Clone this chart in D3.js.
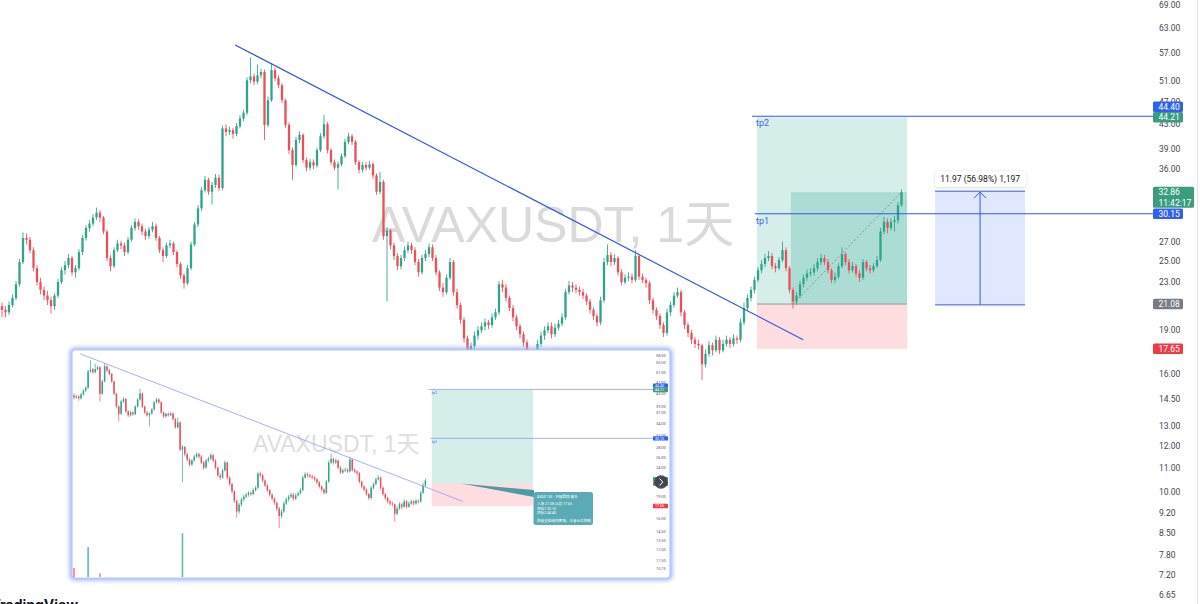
<!DOCTYPE html>
<html>
<head>
<meta charset="utf-8">
<script src="https://cdn.jsdelivr.net/npm/d3@7"></script>
<style>
  html, body { margin: 0; padding: 0; background: #ffffff; }
  svg { display: block; font-family: Roboto, "Noto Sans CJK SC", sans-serif; }
</style>
</head>
<body>
<svg id="chart" width="1200" height="604"></svg>
<script>
// ---- AVAXUSDT daily candles ----
const firstOpen = 20.9;
const closes = [
  20.6, 20.4, 21.0, 21.6, 22.8, 24.9, 27.4, 27.2, 26.1, 24.3,
  23.0, 22.3, 21.8, 21.4, 20.9, 21.8, 23.0, 24.1, 24.6, 25.3,
  23.9, 24.3, 25.9, 27.4, 28.5, 29.0, 29.7, 30.3, 29.7, 28.1,
  25.3, 24.5, 26.1, 26.8, 26.6, 25.9, 27.2, 28.5, 29.2, 28.7,
  28.1, 27.6, 28.3, 28.7, 27.4, 26.1, 25.5, 26.6, 26.8, 25.9,
  24.7, 23.6, 22.9, 24.3, 26.7, 28.9, 30.8, 33.1, 34.5, 32.9,
  33.8, 34.8, 33.4, 42.3, 41.7, 42.0, 41.4, 42.7, 44.0, 45.0,
  51.2, 52.0, 50.9, 52.2, 52.9, 42.9, 47.3, 53.3, 51.6, 50.2,
  47.3, 42.9, 38.8, 36.6, 40.4, 41.2, 37.3, 36.2, 37.0, 36.5,
  38.8, 41.0, 43.0, 38.8, 37.0, 36.2, 36.7, 37.9, 40.1, 41.0,
  40.1, 37.0, 35.9, 36.6, 36.2, 36.7, 35.1, 32.9, 34.2, 27.6,
  28.2, 26.6, 25.5, 24.5, 25.3, 26.1, 26.6, 26.1, 24.9, 23.9,
  25.3, 25.7, 26.4, 25.3, 23.9, 22.5, 22.1, 23.4, 24.9, 22.1,
  21.0, 19.8, 18.4, 16.9, 17.85, 18.6, 19.0, 19.3, 19.6, 19.4,
  20.0, 20.4, 22.8, 22.5, 21.6, 20.75, 20.0, 19.3, 18.7, 18.1,
  17.3, 16.3, 16.9, 18.0, 18.6, 19.0, 19.3, 18.7, 19.2, 19.5,
  20.0, 22.1, 22.7, 22.5, 22.3, 22.1, 21.8, 21.3, 20.6, 20.1,
  19.6, 21.4, 24.9, 25.6, 24.9, 25.3, 23.9, 23.0, 23.4, 23.5,
  23.2, 25.5, 23.5, 23.2, 22.9, 21.4, 20.6, 20.1, 19.4, 18.8,
  20.4, 21.0, 21.8, 22.1, 20.4, 19.4, 18.8, 18.3, 18.0, 17.9,
  16.6, 17.3, 17.9, 17.55, 18.3, 17.55, 18.0, 18.3, 18.0, 18.4,
  18.3, 19.6, 20.75, 21.6, 22.3, 23.2, 24.1, 24.7, 25.3, 25.5,
  24.5, 24.3, 25.1, 26.1, 24.3, 22.3, 21.3, 21.8, 22.8, 23.4,
  23.8, 23.9, 24.3, 24.9, 25.3, 24.9, 24.1, 23.2, 23.5, 24.5,
  25.7, 24.9, 24.1, 24.5, 23.8, 23.4, 24.9, 24.3, 24.1, 24.5,
  25.1, 28.1, 29.2, 28.5, 29.2, 29.4, 31.2, 32.86
];
const highs = [
  21.2, 20.9, 21.3, 21.9, 23.1, 25.2, 28.0, 27.9, 27.5, 26.4,
  24.6, 23.4, 22.6, 22.2, 21.7, 22.0, 23.3, 24.4, 25.0, 25.7,
  25.5, 24.6, 26.2, 27.7, 28.8, 29.4, 30.1, 30.9, 30.6, 29.9,
  28.3, 25.6, 26.4, 27.2, 27.1, 26.9, 27.5, 28.8, 29.6, 29.5,
  29.0, 28.4, 28.6, 29.2, 29.0, 27.6, 26.4, 26.9, 27.2, 27.0,
  26.1, 24.9, 23.8, 24.6, 27.0, 29.2, 31.2, 33.5, 35.0, 34.8,
  34.2, 35.3, 35.2, 42.8, 43.0, 42.6, 42.4, 43.2, 44.6, 45.6,
  51.8, 56.0, 52.6, 54.5, 53.6, 53.4, 48.0, 54.8, 53.8, 52.2,
  50.6, 47.6, 43.3, 39.2, 40.9, 41.8, 41.5, 37.7, 37.5, 37.4,
  39.2, 41.5, 44.6, 43.4, 39.1, 37.4, 37.1, 38.3, 40.6, 41.6,
  41.4, 40.4, 37.3, 37.0, 37.0, 37.2, 37.0, 35.4, 35.6, 34.5,
  28.6, 28.4, 26.9, 25.8, 25.6, 26.5, 27.0, 26.9, 26.4, 25.2,
  25.6, 26.1, 26.8, 26.7, 25.6, 24.1, 22.9, 23.7, 25.3, 25.1,
  22.4, 21.2, 20.0, 18.6, 18.1, 18.9, 19.3, 19.6, 19.9, 19.8,
  20.3, 20.7, 23.1, 23.2, 22.8, 21.8, 21.0, 20.2, 19.5, 18.9,
  18.3, 17.5, 17.2, 18.3, 18.9, 19.3, 19.6, 19.6, 19.5, 19.8,
  20.3, 22.4, 23.1, 23.0, 22.8, 22.6, 22.4, 22.0, 21.5, 20.8,
  20.3, 21.7, 25.3, 26.7, 25.9, 25.7, 25.5, 24.2, 23.7, 23.9,
  23.8, 26.1, 25.7, 23.8, 23.4, 23.1, 21.6, 20.8, 20.3, 19.6,
  20.7, 21.3, 22.1, 22.5, 22.3, 20.6, 19.6, 19.0, 18.5, 18.3,
  18.0, 17.6, 18.2, 18.1, 18.6, 18.5, 18.3, 18.6, 18.5, 18.7,
  18.6, 19.9, 21.2, 21.9, 22.6, 23.5, 24.4, 25.1, 25.7, 26.0,
  25.8, 24.8, 25.4, 27.0, 26.4, 24.5, 22.5, 22.1, 23.1, 23.7,
  24.2, 24.3, 24.7, 25.3, 25.7, 25.6, 25.2, 24.3, 23.9, 24.8,
  26.4, 25.9, 25.2, 24.9, 24.7, 24.1, 25.2, 25.1, 24.6, 24.8,
  25.5, 28.5, 29.8, 29.6, 29.6, 29.9, 31.6, 33.2
];
const lows = [
  20.0, 20.0, 20.2, 20.8, 21.4, 22.6, 24.7, 26.7, 25.8, 24.0,
  22.7, 21.9, 21.4, 21.0, 20.3, 20.6, 21.6, 22.8, 23.7, 24.3,
  23.6, 23.4, 24.1, 25.6, 27.1, 28.1, 28.7, 29.4, 29.2, 27.8,
  25.0, 24.0, 24.3, 25.9, 26.2, 25.5, 25.7, 27.0, 28.2, 28.3,
  27.7, 27.2, 27.3, 28.0, 27.1, 25.8, 24.9, 25.3, 26.3, 25.6,
  24.4, 23.3, 22.4, 22.7, 24.1, 26.5, 28.6, 30.5, 32.8, 32.5,
  31.3, 33.4, 33.0, 33.1, 41.0, 41.2, 40.6, 41.0, 42.3, 43.5,
  44.6, 50.6, 50.2, 50.4, 51.6, 40.4, 42.5, 47.0, 51.0, 49.6,
  46.8, 42.4, 38.2, 34.5, 36.3, 39.9, 36.9, 35.7, 35.8, 36.0,
  36.2, 38.5, 40.6, 38.3, 36.6, 35.8, 33.2, 36.4, 37.6, 39.7,
  39.6, 36.6, 35.4, 35.5, 35.8, 35.9, 34.7, 32.5, 32.6, 27.2,
  21.3, 26.2, 25.1, 24.1, 24.2, 25.0, 25.8, 25.7, 24.6, 23.5,
  23.7, 25.0, 25.4, 25.0, 23.6, 22.2, 21.7, 21.9, 23.2, 21.8,
  20.7, 19.5, 18.1, 16.1, 16.6, 17.6, 18.3, 18.8, 19.0, 19.1,
  19.2, 19.8, 20.2, 22.1, 21.3, 20.5, 19.7, 19.0, 18.4, 17.8,
  17.0, 14.8, 16.0, 16.7, 17.8, 18.3, 18.8, 18.4, 18.5, 19.0,
  19.3, 19.8, 21.9, 22.1, 22.0, 21.8, 21.5, 21.0, 20.3, 19.8,
  19.3, 19.4, 21.2, 24.6, 24.5, 24.6, 23.6, 22.7, 22.8, 23.1,
  22.9, 23.0, 23.2, 22.9, 22.5, 21.1, 20.3, 19.8, 19.1, 18.5,
  18.6, 20.1, 20.8, 21.6, 20.1, 19.1, 18.5, 18.0, 17.7, 17.6,
  15.6, 16.4, 17.1, 17.2, 17.4, 17.3, 17.4, 17.8, 17.7, 17.8,
  18.0, 18.1, 19.4, 20.5, 21.3, 22.0, 23.0, 23.8, 24.4, 25.0,
  24.2, 23.9, 24.1, 24.9, 24.0, 22.0, 20.7, 21.0, 21.6, 22.5,
  23.1, 23.5, 23.6, 24.0, 24.6, 24.6, 23.8, 22.9, 22.9, 23.3,
  24.3, 24.6, 23.8, 23.9, 23.5, 23.0, 23.2, 24.0, 23.8, 23.9,
  24.3, 24.9, 27.8, 27.9, 28.2, 28.1, 29.0, 31.0
];

// price axis ticks
const axisTicks = [69, 63, 57, 51, 47, 43, 39, 36, 27, 25, 23, 19, 16, 14.5, 13, 12, 11, 10, 9.2, 8.5, 7.8, 7.2, 6.65];
const insetTicks = [58, 55, 51, 47, 43, 39, 37, 34, 31, 28, 26, 24, 22, 19, 16, 14.5, 13.5, 12.5, 11.5, 10.75];

// drawings (bar index / price)
const trendPoints = [{ i: 66.6, p: 58.9 }, { i: 228.9, p: 18.3 }];
const entryPrice = 21.08, targetPrice = 44.21, stopPrice = 17.65, lastPrice = 32.86;
const positionSpan = [215.7, 258.6];
const positionLiveFrom = 225.4;
const liveDiagonal = [{ i: 226, p: 21.08 }, { i: 257, p: 32.86 }];
const levelLines = [
  { name: 'tp2', p: 44.40, from: 214.3 },
  { name: 'tp1', p: 30.15, from: 215.1 }
];
const measureSpan = [266.6, 292.3];
const measurePrices = [21.01, 32.98];
const measureText = '11.97 (56.98%) 1,197';
const watermarkText = 'AVAXUSDT, 1天';

const priceTags = [
  { v: 44.40, lines: ['44.40'], color: '#3160ee' },
  { v: 44.21, lines: ['44.21'], color: '#3a9d7d' },
  { v: 32.86, lines: ['32.86', '11:42:17'], color: '#3a9d7d' },
  { v: 30.15, lines: ['30.15'], color: '#3160ee' },
  { v: 21.08, lines: ['21.08'], color: '#787b86' },
  { v: 17.65, lines: ['17.65'], color: '#ef3b47' }
];

// snapshot panel: the same chart at the time of entry
const insetLastIndex = 213;
const insetVolumeIndex = [64, 70, 75, 110];
const insetVolumeValue = [18, 55, 8, 80];
const insetTags = [
  { v: 44.40, text: '44.40', color: '#3160ee' },
  { v: 44.21, text: '44.21', color: '#3a9d7d' },
  { v: 30.15, text: '30.15', color: '#3160ee' },
  { v: 21.60, text: '21.60', color: '#3a9d7d' },
  { v: 21.08, text: '21.08', color: '#787b86' },
  { v: 17.65, text: '17.65', color: '#ef3b47' }
];
const noteLines = [
  'AVAX 1天 · 突破回踩 做多',
  '入场  21.08   止损  17.65',
  '目标1  30.15',
  '目标2  44.40',
  '跌破支撑线则离场，注意仓位控制'
];

// ---- drawing ----
const UP = '#2ea48a', DOWN = '#ec4f5a', LINE = '#3559e6';
const svg = d3.select('#chart');
const N = closes.length;
const candles = closes.map((c, i) => ({ i, o: i === 0 ? firstOpen : closes[i - 1], c, h: highs[i], l: lows[i] }));

const x = d3.scaleLinear().domain([0, N - 1]).range([2, 901.5]);
const y = d3.scaleLog().domain([69, 6.65]).range([5, 595]);

const defs = svg.append('defs');
defs.append('filter').attr('id', 'glow').attr('x', '-5%').attr('y', '-10%').attr('width', '110%').attr('height', '120%')
  .append('feGaussianBlur').attr('stdDeviation', 2.2);
defs.append('filter').attr('id', 'shadow').attr('x', '-20%').attr('y', '-50%').attr('width', '140%').attr('height', '200%')
  .append('feDropShadow').attr('dx', 0).attr('dy', 0.5).attr('stdDeviation', 1.2).attr('flood-color', '#000').attr('flood-opacity', 0.22);
defs.append('clipPath').attr('id', 'insetClip').append('rect').attr('x', 73).attr('y', 351).attr('width', 580).attr('height', 226);

function drawCandles(g, data, xs, ys, bodyW, wickW) {
  const c = g.selectAll('g.candle').data(data).join('g').attr('class', 'candle');
  c.append('line')
    .attr('x1', d => xs(d.i)).attr('x2', d => xs(d.i))
    .attr('y1', d => ys(Math.max(d.h, d.o, d.c))).attr('y2', d => ys(Math.min(d.l, d.o, d.c)))
    .attr('stroke', d => d.c >= d.o ? UP : DOWN).attr('stroke-width', wickW).attr('stroke-opacity', 0.85);
  c.append('rect')
    .attr('x', d => xs(d.i) - bodyW / 2)
    .attr('y', d => ys(Math.max(d.o, d.c)))
    .attr('width', bodyW)
    .attr('height', d => Math.max(0.8, Math.abs(ys(d.o) - ys(d.c))))
    .attr('fill', d => d.c >= d.o ? UP : DOWN);
}

function drawPosition(g, xs, ys, withLive) {
  const x0 = xs(positionSpan[0]), x1 = xs(positionSpan[1]);
  g.append('rect').attr('x', x0).attr('y', ys(targetPrice)).attr('width', x1 - x0)
    .attr('height', ys(entryPrice) - ys(targetPrice)).attr('fill', '#089981').attr('fill-opacity', 0.17);
  g.append('rect').attr('x', x0).attr('y', ys(entryPrice)).attr('width', x1 - x0)
    .attr('height', ys(stopPrice) - ys(entryPrice)).attr('fill', '#f23645').attr('fill-opacity', 0.17);
  if (withLive) {
    const xl = xs(positionLiveFrom);
    g.append('rect').attr('x', xl).attr('y', ys(lastPrice)).attr('width', x1 - xl)
      .attr('height', ys(entryPrice) - ys(lastPrice)).attr('fill', '#089981').attr('fill-opacity', 0.2);
    g.append('line').attr('x1', x0).attr('x2', x1).attr('y1', ys(entryPrice)).attr('y2', ys(entryPrice))
      .attr('stroke', '#9598a1').attr('stroke-width', 1);
  }
}

// watermark
svg.append('text').attr('x', 372).attr('y', 242)
  .attr('font-family', '"Liberation Sans", Arial, "Noto Sans CJK SC", sans-serif')
  .attr('font-size', 50).attr('fill', '#dadada').text(watermarkText);

// position tool and price range fills under candles
const main = svg.append('g');
drawPosition(main, x, y, true);
const mx0 = x(measureSpan[0]), mx1 = x(measureSpan[1]);
const myTop = y(measurePrices[1]), myBot = y(measurePrices[0]);
main.append('rect').attr('x', mx0).attr('y', myTop).attr('width', mx1 - mx0).attr('height', myBot - myTop)
  .attr('fill', '#2962ff').attr('fill-opacity', 0.15);

drawCandles(main.append('g'), candles, x, y, 2.3, 1);

// dashed path from entry to last price
main.append('line')
  .attr('x1', x(liveDiagonal[0].i)).attr('y1', y(liveDiagonal[0].p))
  .attr('x2', x(liveDiagonal[1].i)).attr('y2', y(liveDiagonal[1].p))
  .attr('stroke', '#8a8d96').attr('stroke-width', 1).attr('stroke-dasharray', '2,2');

// trend line
const trendLine = d3.line().x(d => x(d.i)).y(d => y(d.p));
main.append('path').attr('d', trendLine(trendPoints)).attr('fill', 'none').attr('stroke', LINE).attr('stroke-width', 1.2);

// horizontal levels
levelLines.forEach(l => {
  main.append('line').attr('x1', x(l.from)).attr('x2', 1153).attr('y1', y(l.p)).attr('y2', y(l.p))
    .attr('stroke', LINE).attr('stroke-width', 1.1);
  main.append('text').attr('x', x(positionSpan[0]) - 1).attr('y', y(l.p) + 10)
    .attr('font-size', 9).attr('fill', '#3e63e6').text(l.name);
});

// price range measure
[myTop, myBot].forEach(v => main.append('line').attr('x1', mx0).attr('x2', mx1).attr('y1', v).attr('y2', v)
  .attr('stroke', LINE).attr('stroke-width', 1));
const mxc = (mx0 + mx1) / 2;
main.append('line').attr('x1', mxc).attr('x2', mxc).attr('y1', myBot).attr('y2', myTop + 1)
  .attr('stroke', LINE).attr('stroke-width', 1);
main.append('path').attr('d', `M${mxc - 6},${myTop + 7}L${mxc},${myTop + 1}L${mxc + 6},${myTop + 7}`)
  .attr('fill', 'none').attr('stroke', LINE).attr('stroke-width', 1);
main.append('rect').attr('x', mx0).attr('y', myTop - 20).attr('width', mx1 - mx0 + 1).attr('height', 15.5)
  .attr('rx', 3).attr('fill', '#fff').attr('filter', 'url(#shadow)');
main.append('text').attr('x', mxc).attr('y', myTop - 12.2).attr('dy', '0.35em').attr('text-anchor', 'middle')
  .attr('font-size', 8.5).attr('fill', '#131722').text(measureText);

// ---- snapshot panel ----
const inset = svg.append('g');
inset.append('rect').attr('x', 72).attr('y', 350).attr('width', 598).attr('height', 228).attr('rx', 3)
  .attr('fill', 'none').attr('stroke', '#94acfb').attr('stroke-width', 4.5).attr('filter', 'url(#glow)');
inset.append('rect').attr('x', 72).attr('y', 350).attr('width', 598).attr('height', 228).attr('rx', 3)
  .attr('fill', '#ffffff').attr('stroke', '#b8c7fc').attr('stroke-width', 1.2);

const ix = d3.scaleLinear().domain([0, N - 1]).range([-77.0, 529.2]);
const iy = d3.scaleLog().domain([44.21, 17.65]).range([390, 506]);
const ivol = d3.scaleLinear().domain([0, 100]).range([578, 522]);

const ip = inset.append('g').attr('clip-path', 'url(#insetClip)');
ip.append('text').attr('x', 253).attr('y', 452)
  .attr('font-family', '"Liberation Sans", Arial, "Noto Sans CJK SC", sans-serif')
  .attr('font-size', 23).attr('fill', '#dedede').text(watermarkText);

ip.selectAll('rect.vol').data(insetVolumeIndex).join('rect').attr('class', 'vol')
  .attr('x', i => ix(i) - 0.8).attr('width', 1.6)
  .attr('y', (i, k) => ivol(insetVolumeValue[k])).attr('height', (i, k) => ivol(0) - ivol(insetVolumeValue[k]))
  .attr('fill', i => candles[i].c >= candles[i].o ? UP : DOWN).attr('fill-opacity', 0.75);

drawPosition(ip, ix, iy, false);
drawCandles(ip.append('g'), candles.filter(d => d.i <= insetLastIndex), ix, iy, 1.5, 0.8);

const itrend = d3.line().x(d => ix(d.i)).y(d => iy(d.p));
ip.append('path').attr('d', itrend(trendPoints)).attr('fill', 'none').attr('stroke', '#8d9ff0').attr('stroke-width', 0.8);

levelLines.forEach(l => {
  inset.append('line').attr('x1', ix(l.from)).attr('x2', 668).attr('y1', iy(l.p)).attr('y2', iy(l.p))
    .attr('stroke', '#7f95f2').attr('stroke-width', 0.7);
  inset.append('text').attr('x', ix(positionSpan[0])).attr('y', iy(l.p) + 4.5)
    .attr('font-size', 3.6).attr('fill', '#3e63e6').text(l.name);
});

// note callout
inset.append('path').attr('d', `M${ix(228)},${iy(entryPrice)}L534,490L534,497Z`).attr('fill', '#4d9ba6');
inset.append('rect').attr('x', 533.5).attr('y', 492).attr('width', 59.5).attr('height', 33).attr('rx', 2.5).attr('fill', '#5aabb5');
const noteY = [497, 504, 508.3, 512.6, 520.7];
noteLines.forEach((t, k) => inset.append('text').attr('x', 537).attr('y', noteY[k]).attr('dy', '0.35em')
  .attr('font-size', 3.6).attr('fill', '#ffffff').text(t));

// snapshot price axis
const iAxis = inset.append('g').attr('transform', 'translate(655,0)')
  .call(d3.axisRight(iy).tickValues(insetTicks).tickFormat(d3.format('.2f')).tickSize(0).tickPadding(1));
iAxis.select('.domain').remove();
iAxis.selectAll('text').attr('font-size', 3.8).attr('fill', '#50535e').attr('font-family', 'Roboto, sans-serif');

function placeTags(list, ys, h) {
  const t = list.map(d => Object.assign({}, d, { cy: ys(d.v) })).sort((a, b) => a.cy - b.cy);
  for (let k = t.length - 2; k >= 0; k--) {
    const limit = t[k + 1].cy - h;
    if (t[k].cy > limit) t[k].cy = limit;
  }
  return t;
}
placeTags(insetTags, iy, 4.4).forEach(t => {
  inset.append('rect').attr('x', 653).attr('y', t.cy - 2.2).attr('width', 15).attr('height', 4.4).attr('rx', 0.6).attr('fill', t.color);
  inset.append('text').attr('x', 655).attr('y', t.cy).attr('dy', '0.35em').attr('font-size', 3.6).attr('fill', '#fff').text(t.text);
});
inset.append('circle').attr('cx', 661).attr('cy', 482).attr('r', 6.8).attr('fill', '#3b3f49').attr('fill-opacity', 0.92);
inset.append('path').attr('d', 'M659.5,478.5L662.8,482L659.5,485.5').attr('fill', 'none').attr('stroke', '#fff').attr('stroke-width', 1);

// ---- main price axis ----
const axisG = svg.append('g').attr('transform', 'translate(1156,0)')
  .call(d3.axisRight(y).tickValues(axisTicks).tickFormat(d3.format('.2f')).tickSize(0).tickPadding(3));
axisG.select('.domain').remove();
axisG.selectAll('text').attr('font-size', 8.5).attr('fill', '#434651').attr('font-family', 'Roboto, sans-serif');

const tagLineH = 10.5;
placeTags(priceTags.map(d => Object.assign({}, d)), y, tagLineH).forEach(t => {
  const w = t.lines.length > 1 ? 41 : 30;
  svg.append('rect').attr('x', 1153).attr('y', t.cy - tagLineH / 2).attr('width', w)
    .attr('height', tagLineH * t.lines.length).attr('rx', 1.5).attr('fill', t.color);
  t.lines.forEach((s, k) => svg.append('text').attr('x', 1158.5).attr('y', t.cy + k * tagLineH).attr('dy', '0.35em')
    .attr('font-size', 8.5).attr('fill', '#ffffff').text(s));
});
svg.append('line').attr('x1', 1197.5).attr('x2', 1197.5).attr('y1', 0).attr('y2', 604).attr('stroke', '#e3e5ea');

// logo text at the bottom edge
svg.append('text').attr('x', -8.5).attr('y', 610).attr('font-size', 14).attr('font-weight', 700)
  .attr('fill', '#131722').attr('font-family', 'Inter, Roboto, sans-serif').text('TradingView');
</script>
</body>
</html>
